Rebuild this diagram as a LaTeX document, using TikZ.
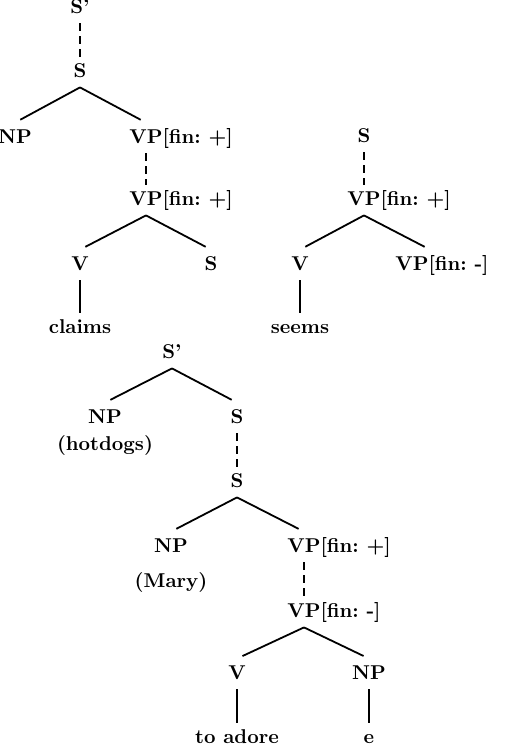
\documentclass[tikz,border=0pt]{standalone}

\begin{document}
\begin{tikzpicture}[x=0.5pt,y=-0.5pt,font=\bfseries,
        cat/.style={inner sep=3pt,text height=7pt,text depth=2pt},
        branch/.style={line width=0.9pt,shorten >=3pt},
        stem/.style={line width=0.9pt},
        dots/.style={line width=0.9pt,dash pattern=on 4pt off 2.5pt}]
        \useasboundingbox (0,0) rectangle (510,746);
        % claims
        \node[cat] (sa) at (80,8) {S'};
        \node[cat] (sb) at (80,72) {S};
        \node[cat] (np1) at (15,138) {NP};
        \node[cat] (vp1) at (146,138) {VP\rlap{[fin:~+]}};
        \node[cat] (vp2) at (146,200) {VP\rlap{[fin:~+]}};
        \node[cat] (v1) at (80,265) {V};
        \node[cat] (s1) at (211,265) {S};
        \node[cat] (claims) at (80,328) {claims};
        \draw[dots] (sa.south) -- (sb.north);
        \draw[branch] (sb.south) -- (np1.north);
        \draw[branch] (sb.south) -- (vp1.north);
        \draw[dots] (vp1.south) -- (vp2.north);
        \draw[branch] (vp2.south) -- (v1.north);
        \draw[branch] (vp2.south) -- (s1.north);
        \draw[stem] (v1.south) -- (claims.north);
        % seems
        \node[cat] (s2) at (364,137) {S};
        \node[cat] (vp3) at (364,200) {VP\rlap{[fin:~+]}};
        \node[cat] (v2) at (300,265) {V};
        \node[cat] (vp4) at (412,265) {VP\rlap{[fin:~-]}};
        \node[cat] (seems) at (300,328) {seems};
        \draw[dots] (s2.south) -- (vp3.north);
        \draw[branch] (vp3.south) -- (v2.north);
        \draw[branch] (vp3.south) -- ([xshift=9pt]vp4.north);
        \draw[stem] (v2.south) -- (seems.north);
        % hotdogs
        \node[cat] (sc) at (172,353) {S'};
        \node[cat] (np3) at (105,418) {NP};
        \node[cat] (hotdogs) at (105,445) {(hotdogs)};
        \node[cat] (s3) at (237,418) {S};
        \node[cat] (s4) at (237,482) {S};
        \node[cat] (np4) at (171,547) {NP};
        \node[cat] (mary) at (171,582) {(Mary)};
        \node[cat] (vp5) at (304,547) {VP\rlap{[fin:~+]}};
        \node[cat] (vp6) at (304,612) {VP\rlap{[fin:~-]}};
        \node[cat] (v3) at (237,674) {V};
        \node[cat] (np5) at (369,674) {NP};
        \node[cat] (adore) at (237,738) {to adore};
        \node[cat] (e) at (369,738) {e};
        \draw[branch] (sc.south) -- (np3.north);
        \draw[branch] (sc.south) -- (s3.north);
        \draw[dots] (s3.south) -- (s4.north);
        \draw[branch] (s4.south) -- (np4.north);
        \draw[branch] (s4.south) -- (vp5.north);
        \draw[dots] (vp5.south) -- (vp6.north);
        \draw[branch] (vp6.south) -- (v3.north);
        \draw[branch] (vp6.south) -- (np5.north);
        \draw[stem] (v3.south) -- (adore.north);
        \draw[stem] (np5.south) -- (e.north);
\end{tikzpicture}
\end{document}
